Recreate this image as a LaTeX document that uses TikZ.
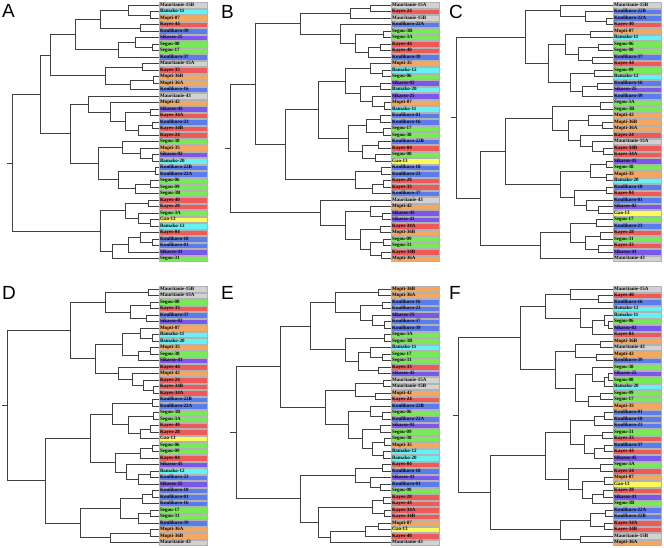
\documentclass[tikz,border=0pt]{standalone}
\usepackage{fontspec}
\setmainfont{Liberation Serif}
\newfontfamily\panelfont{Liberation Sans}
\usetikzlibrary{calc}

\definecolor{mau}{HTML}{D2D2D2}
\definecolor{bam}{HTML}{66F2F2}
\definecolor{mop}{HTML}{F2A860}
\definecolor{kay}{HTML}{EC5A5A}
\definecolor{kou}{HTML}{5C7CEC}
\definecolor{sik}{HTML}{7A58E8}
\definecolor{seg}{HTML}{78EA58}
\definecolor{gao}{HTML}{FAFA5A}

\tikzset{
  leaf/.style={draw=gray!60, line width=0.3pt, fill=#1, anchor=west, align=left,
    font=\fontsize{5}{5}\selectfont\bfseries, text width=46pt, inner xsep=1pt,
    inner ysep=0.5pt, text height=3.6pt, text depth=1pt},
  panel/.style={anchor=north west, inner sep=0pt, font=\panelfont\fontsize{19}{19}\selectfont},
  branch/.style={line width=0.4pt, black!75}
}

% join two clades: name, x, child, child
\newcommand\jn[4]{%
  \path let \p1=(#3), \p2=(#4) in coordinate (#1) at (#2, {0.5*(\y1+\y2)});
  \draw[branch] (#1) |- (#3) (#1) |- (#4);}

\begin{document}
\begin{tikzpicture}[x=1pt, y=-1pt]
  \useasboundingbox (0,0) rectangle (664,548);
  \def\yT{5}     % first row, top panels
  \def\yB{289}   % first row, bottom panels
  \def\dy{6.5}   % row pitch
  % panel letters
  \node[panel] (pA) at (2,4) {A};
  \node[panel] (pB) at (221,5) {B};
  \node[panel] (pC) at (449,5) {C};
  \node[panel] (pD) at (2,286) {D};
  \node[panel] (pE) at (221,286) {E};
  \node[panel] (pF) at (449,286) {F};
  % panel A leaves
  \foreach \t/\c [count=\i] in {Mauritanie-15B/mau, Bamako-11/bam, Mopti-07/mop, Kayes-44/kay,
      Koulikoro-39/kou, Sikasso-25/sik, Segou-08/seg, Segou-17/seg, Koulikoro-37/kou,
      Mauritanie-15A/mau, Kayes-33/kay, Mopti-36B/mop, Mopti-36A/mop, Koulikoro-16/kou,
      Mauritanie-43/mau, Mopti-42/mop, Sikasso-45/sik, Kayes-34A/kay, Koulikoro-23/kou,
      Kayes-34B/kay, Kayes-24/kay, Segou-38/seg, Mopti-35/mop, Sikasso-02/sik, Bamako-20/bam,
      Koulikoro-22B/kou, Koulikoro-22A/kou, Segou-06/seg, Segou-09/seg, Segou-3B/seg,
      Kayes-40/kay, Kayes-28/kay, Segou-3A/seg, Gao-13/gao, Bamako-12/bam, Kayes-04/kay,
      Koulikoro-18/kou, Koulikoro-01/kou, Sikasso-41/sik, Segou-31/seg}
    \node[leaf=\c] (A\i) at (159, {\yT+(\i-1)*\dy}) {\t};
  % panel B leaves
  \foreach \t/\c [count=\i] in {Mauritanie-15A/mau, Kayes-24/kay, Mauritanie-15B/mau,
      Koulikoro-22A/kou, Segou-3B/seg, Segou-3A/seg, Kayes-44/kay, Kayes-40/kay,
      Koulikoro-39/kou, Mopti-35/mop, Bamako-12/bam, Segou-06/seg, Sikasso-02/sik,
      Bamako-20/bam, Sikasso-25/sik, Mopti-07/mop, Bamako-11/bam, Koulikoro-01/kou,
      Koulikoro-16/kou, Segou-17/seg, Segou-38/seg, Koulikoro-22B/kou, Kayes-04/kay,
      Segou-08/seg, Gao-13/gao, Koulikoro-18/kou, Koulikoro-23/kou, Kayes-28/kay,
      Kayes-33/kay, Koulikoro-37/kou, Mauritanie-43/mau, Mopti-42/mop, Sikasso-45/sik,
      Sikasso-41/sik, Kayes-34A/kay, Mopti-36B/mop, Segou-09/seg, Segou-31/seg,
      Kayes-34B/kay, Mopti-36A/mop}
    \node[leaf=\c] (B\i) at (391, {\yT+(\i-1)*\dy}) {\t};
  % panel C leaves
  \foreach \t/\c [count=\i] in {Mauritanie-15B/mau, Koulikoro-22B/kou, Koulikoro-22A/kou,
      Kayes-40/kay, Mopti-07/mop, Bamako-11/bam, Segou-06/seg, Segou-08/seg,
      Koulikoro-37/kou, Kayes-44/kay, Segou-09/seg, Bamako-12/bam, Koulikoro-16/kou,
      Sikasso-25/sik, Koulikoro-39/kou, Segou-3A/seg, Segou-3B/seg, Mopti-42/mop,
      Mopti-36B/mop, Mopti-36A/mop, Kayes-24/kay, Mauritanie-15A/mau, Kayes-34B/kay,
      Kayes-34A/kay, Sikasso-45/sik, Segou-38/seg, Mopti-35/mop, Bamako-20/bam,
      Koulikoro-18/kou, Kayes-04/kay, Koulikoro-01/kou, Sikasso-02/sik, Gao-13/gao,
      Segou-17/seg, Koulikoro-23/kou, Kayes-28/kay, Segou-31/seg, Kayes-33/kay,
      Sikasso-41/sik, Mauritanie-43/mau}
    \node[leaf=\c] (C\i) at (613, {\yT+(\i-1)*\dy}) {\t};
  % panel D leaves
  \foreach \t/\c [count=\i] in {Mauritanie-15B/mau, Mauritanie-15A/mau, Segou-08/seg,
      Kayes-33/kay, Koulikoro-37/kou, Sikasso-02/sik, Mopti-07/mop, Bamako-11/bam,
      Bamako-20/bam, Mopti-35/mop, Segou-38/seg, Sikasso-41/sik, Kayes-44/kay, Mopti-42/mop,
      Kayes-24/kay, Kayes-34B/kay, Kayes-34A/kay, Koulikoro-22B/kou, Koulikoro-22A/kou,
      Segou-3B/seg, Segou-3A/seg, Kayes-40/kay, Kayes-28/kay, Gao-13/gao, Segou-06/seg,
      Segou-09/seg, Kayes-04/kay, Sikasso-45/sik, Bamako-12/bam, Koulikoro-23/kou,
      Sikasso-25/sik, Koulikoro-18/kou, Koulikoro-01/kou, Koulikoro-16/kou, Segou-17/seg,
      Segou-31/seg, Koulikoro-39/kou, Mopti-36A/mop, Mopti-36B/mop, Mauritanie-43/mau}
    \node[leaf=\c] (D\i) at (159, {\yB+(\i-1)*\dy}) {\t};
  % panel E leaves
  \foreach \t/\c [count=\i] in {Mopti-36B/mop, Mopti-36A/mop, Koulikoro-16/kou,
      Koulikoro-23/kou, Sikasso-25/sik, Koulikoro-37/kou, Koulikoro-39/kou, Segou-3A/seg,
      Segou-3B/seg, Bamako-11/bam, Segou-17/seg, Segou-31/seg, Kayes-33/kay, Sikasso-45/sik,
      Mauritanie-15A/mau, Mauritanie-15B/mau, Mopti-42/mop, Kayes-24/kay, Koulikoro-22B/kou,
      Segou-06/seg, Koulikoro-22A/kou, Sikasso-02/sik, Segou-09/seg, Segou-38/seg,
      Mopti-35/mop, Bamako-12/bam, Bamako-20/bam, Kayes-04/kay, Koulikoro-18/kou,
      Sikasso-41/sik, Koulikoro-01/kou, Segou-08/seg, Kayes-28/kay, Kayes-44/kay,
      Kayes-34A/kay, Kayes-34B/kay, Mopti-07/mop, Gao-13/gao, Kayes-40/kay, Mauritanie-43/mau}
    \node[leaf=\c] (E\i) at (391, {\yB+(\i-1)*\dy}) {\t};
  % panel F leaves
  \foreach \t/\c [count=\i] in {Mauritanie-15A/mau, Kayes-40/kay, Koulikoro-16/kou,
      Bamako-12/bam, Bamako-11/bam, Segou-06/seg, Sikasso-02/sik, Kayes-04/kay,
      Mopti-36B/mop, Mauritanie-43/mau, Mopti-42/mop, Koulikoro-39/kou, Segou-38/seg,
      Sikasso-25/sik, Segou-08/seg, Bamako-20/bam, Segou-09/seg, Segou-17/seg, Mopti-35/mop,
      Koulikoro-01/kou, Koulikoro-18/kou, Koulikoro-23/kou, Segou-31/seg, Kayes-33/kay,
      Koulikoro-37/kou, Kayes-44/kay, Sikasso-45/sik, Segou-3A/seg, Kayes-24/kay,
      Mopti-07/mop, Gao-13/gao, Kayes-28/kay, Sikasso-41/sik, Segou-3B/seg,
      Koulikoro-22A/kou, Koulikoro-22B/kou, Kayes-34A/kay, Kayes-34B/kay,
      Mauritanie-15B/mau, Mopti-36A/mop}
    \node[leaf=\c] (F\i) at (613, {\yB+(\i-1)*\dy}) {\t};

  % tree A
  \jn{Aa}{150}{A2}{A3} \jn{Ab}{128}{A1}{Aa} \jn{Ac}{140}{A4}{A5} \jn{Ad}{100}{Ab}{Ac}
  \jn{Ae}{152}{A7}{A8} \jn{Af}{135}{A6}{Ae} \jn{Ag}{118}{Af}{A9} \jn{Ah}{75}{Ad}{Ag}
  \jn{Ai}{142}{A10}{A11} \jn{Aj}{153}{A12}{A13} \jn{Ak}{130}{Aj}{A14} \jn{Al}{105}{Ai}{Ak}
  \jn{Am}{50}{Ah}{Al}
  \jn{An}{150}{A17}{A18} \jn{Ao}{152}{A19}{A20} \jn{Ap}{138}{Ao}{A21} \jn{Aq}{125}{An}{Ap}
  \jn{Ar}{110}{A16}{Aq} \jn{As}{88}{A15}{Ar}
  \jn{At}{152}{A24}{A25} \jn{Au}{140}{A23}{At} \jn{Av}{122}{A22}{Au} \jn{Aw}{155}{A26}{A27}
  \jn{Ax}{150}{A28}{A29} \jn{Ay}{135}{Ax}{A30} \jn{Az}{118}{Aw}{Ay} \jn{AA}{98}{Av}{Az}
  \jn{AB}{70}{As}{AA} \jn{AC}{40}{Am}{AB}
  \jn{AD}{148}{A31}{A32} \jn{AE}{150}{A34}{A35} \jn{AF}{138}{A33}{AE} \jn{AG}{125}{AD}{AF}
  \jn{AH}{152}{A37}{A38} \jn{AI}{140}{A36}{AH} \jn{AJ}{128}{AI}{A39} \jn{AK}{112}{AJ}{A40}
  \jn{AL}{100}{AG}{AK} \jn{AM}{12}{AC}{AL}
  \draw[branch] (AM) -- ++(-5,0);

  % tree B
  \jn{Ba}{370}{B1}{B2} \jn{Bb}{350}{Ba}{B3}
  \jn{Bc}{383}{B5}{B6} \jn{Bd}{380}{B7}{B8} \jn{Be}{368}{Bd}{B9} \jn{Bf}{355}{Bc}{Be}
  \jn{Bg}{340}{B4}{Bf} \jn{Bh}{300}{Bb}{Bg}
  \jn{Bi}{382}{B11}{B12} \jn{Bj}{370}{B10}{Bi} \jn{Bk}{380}{B13}{B14} \jn{Bl}{384}{B16}{B17}
  \jn{Bm}{372}{B15}{Bl} \jn{Bn}{360}{Bk}{Bm} \jn{Bo}{345}{Bj}{Bn}
  \jn{Bp}{380}{B18}{B19} \jn{Bq}{383}{B20}{B21} \jn{Br}{366}{Bp}{Bq} \jn{Bs}{378}{B22}{B23}
  \jn{Bt}{375}{B24}{B25} \jn{Bu}{362}{Bs}{Bt} \jn{Bv}{348}{Br}{Bu} \jn{Bw}{318}{Bo}{Bv}
  \jn{Bx}{381}{B26}{B27} \jn{By}{383}{B28}{B29} \jn{Bz}{372}{By}{B30} \jn{BA}{355}{Bx}{Bz}
  \jn{BB}{285}{Bw}{BA} \jn{BC}{255}{Bh}{BB}
  \jn{BD}{382}{B33}{B34} \jn{BE}{370}{B32}{BD} \jn{BF}{380}{B35}{B36} \jn{BG}{383}{B37}{B38}
  \jn{BH}{381}{B39}{B40} \jn{BI}{370}{BG}{BH} \jn{BJ}{360}{BF}{BI} \jn{BK}{345}{BE}{BJ}
  \jn{BL}{320}{B31}{BK} \jn{BM}{230}{BC}{BL}
  \draw[branch] (BM) -- ++(-5,0);

  % tree C
  \jn{Ca}{606}{C3}{C4} \jn{Cb}{585}{C2}{Ca} \jn{Cc}{560}{C1}{Cb}
  \jn{Cd}{590}{C5}{C6} \jn{Ce}{598}{C7}{C8} \jn{Cf}{592}{C9}{C10} \jn{Cg}{578}{Ce}{Cf}
  \jn{Ch}{565}{Cd}{Cg} \jn{Ci}{594}{C11}{C12} \jn{Cj}{597}{C13}{C14} \jn{Ck}{582}{Cj}{C15}
  \jn{Cl}{570}{Ci}{Ck} \jn{Cm}{548}{Ch}{Cl} \jn{Cn}{525}{Cc}{Cm}
  \jn{Co}{600}{C16}{C17} \jn{Cp}{602}{C19}{C20} \jn{Cq}{588}{C18}{Cp} \jn{Cr}{603}{C23}{C24}
  \jn{Cs}{592}{C22}{Cr} \jn{Ct}{580}{C21}{Cs} \jn{Cu}{568}{Cq}{Ct} \jn{Cv}{552}{Co}{Cu}
  \jn{Cw}{606}{C25}{C26} \jn{Cx}{606}{C27}{C28} \jn{Cy}{590}{Cw}{Cx} \jn{Cz}{606}{C29}{C30}
  \jn{CA}{598}{C32}{C33} \jn{CB}{586}{C31}{CA} \jn{CC}{574}{Cz}{CB} \jn{CD}{560}{Cy}{CC}
  \jn{CE}{505}{Cv}{CD}
  \jn{CF}{596}{C34}{C35} \jn{CG}{600}{C36}{C37} \jn{CH}{598}{C38}{C39} \jn{CI}{585}{CG}{CH}
  \jn{CJ}{570}{CF}{CI} \jn{CK}{540}{CJ}{C40} \jn{CL}{480}{CE}{CK} \jn{CM}{456}{Cn}{CL}
  \draw[branch] (CM) -- ++(-5,0);

  % tree D
  \jn{Da}{148}{D1}{D2} \jn{Db}{150}{D3}{D4} \jn{Dc}{146}{D5}{D6} \jn{Dd}{130}{Db}{Dc}
  \jn{De}{105}{Da}{Dd}
  \jn{Df}{152}{D8}{D9} \jn{Dg}{140}{D7}{Df} \jn{Dh}{150}{D10}{D11} \jn{Di}{138}{Dh}{D12}
  \jn{Dj}{122}{Dg}{Di} \jn{Dk}{153}{D16}{D17} \jn{Dl}{143}{D15}{Dk} \jn{Dm}{132}{D14}{Dl}
  \jn{Dn}{118}{D13}{Dm} \jn{Do}{95}{Dj}{Dn} \jn{Dp}{70}{De}{Do}
  \jn{Dq}{152}{D18}{D19} \jn{Dr}{153}{D20}{D21} \jn{Ds}{150}{D22}{D23} \jn{Dt}{140}{Ds}{D24}
  \jn{Du}{128}{Dr}{Dt} \jn{Dv}{112}{Dq}{Du}
  \jn{Dw}{152}{D25}{D26} \jn{Dx}{140}{Dw}{D27} \jn{Dy}{150}{D29}{D30} \jn{Dz}{138}{Dy}{D31}
  \jn{DA}{126}{D28}{Dz} \jn{DB}{115}{Dx}{DA} \jn{DC}{90}{Dv}{DB}
  \jn{DD}{152}{D32}{D33} \jn{DE}{142}{DD}{D34} \jn{DF}{150}{D35}{D36} \jn{DG}{138}{DF}{D37}
  \jn{DH}{120}{DE}{DG} \jn{DI}{150}{D38}{D39} \jn{DJ}{110}{DI}{D40} \jn{DK}{80}{DH}{DJ}
  \jn{DL}{45}{DC}{DK} \jn{DM}{7}{Dp}{DL}
  \draw[branch] (DM) -- ++(-5,0);

  % tree E
  \jn{Ea}{378}{E1}{E2}
  \jn{Eb}{382}{E3}{E4} \jn{Ec}{384}{E6}{E7} \jn{Ed}{372}{E5}{Ec} \jn{Ee}{360}{Eb}{Ed}
  \jn{Ef}{335}{Ea}{Ee}
  \jn{Eg}{384}{E8}{E9} \jn{Eh}{382}{E11}{E12} \jn{Ei}{370}{E10}{Eh} \jn{Ej}{378}{E13}{E14}
  \jn{Ek}{358}{Ei}{Ej} \jn{El}{345}{Eg}{Ek} \jn{Em}{310}{Ef}{El}
  \jn{En}{383}{E15}{E16} \jn{Eo}{375}{E17}{E18} \jn{Ep}{355}{En}{Eo}
  \jn{Eq}{382}{E20}{E21} \jn{Er}{370}{E19}{Eq} \jn{Es}{380}{E22}{E23} \jn{Et}{384}{E24}{E25}
  \jn{Eu}{383}{E26}{E27} \jn{Ev}{372}{Et}{Eu} \jn{Ew}{362}{Es}{Ev} \jn{Ex}{348}{Er}{Ew}
  \jn{Ey}{325}{Ep}{Ex} \jn{Ez}{280}{Em}{Ey}
  \jn{EA}{382}{E28}{E29} \jn{EB}{380}{E31}{E32} \jn{EC}{370}{E30}{EB} \jn{ED}{355}{EA}{EC}
  \jn{EE}{383}{E33}{E34} \jn{EF}{384}{E35}{E36} \jn{EG}{372}{EE}{EF} \jn{EH}{378}{E37}{E38}
  \jn{EI}{365}{EH}{E39} \jn{EJ}{330}{EI}{E40} \jn{EK}{318}{EG}{EJ} \jn{EL}{300}{ED}{EK}
  \jn{EM}{236}{Ez}{EL}
  \draw[branch] (EM) -- ++(-6,0);

  % tree F
  \jn{Fa}{598}{F2}{F3} \jn{Fb}{570}{F1}{Fa}
  \jn{Fc}{608}{F6}{F7} \jn{Fd}{604}{F5}{Fc} \jn{Fe}{592}{Fd}{F8} \jn{Ff}{580}{F4}{Fe}
  \jn{Fg}{545}{Fb}{Ff}
  \jn{Fh}{600}{F9}{F10} \jn{Fi}{596}{F11}{F12} \jn{Fj}{575}{Fh}{Fi}
  \jn{Fk}{608}{F14}{F15} \jn{Fl}{604}{Fk}{F16} \jn{Fm}{592}{F13}{Fl} \jn{Fn}{600}{F17}{F18}
  \jn{Fo}{588}{Fn}{F19} \jn{Fp}{575}{Fm}{Fo} \jn{Fq}{555}{Fj}{Fp} \jn{Fr}{520}{Fg}{Fq}
  \jn{Fs}{604}{F20}{F21} \jn{Ft}{594}{Fs}{F22} \jn{Fu}{602}{F23}{F24} \jn{Fv}{604}{F25}{F26}
  \jn{Fw}{594}{Fv}{F27} \jn{Fx}{584}{Fu}{Fw} \jn{Fy}{570}{Ft}{Fx}
  \jn{Fz}{600}{F28}{F29} \jn{FA}{604}{F30}{F31} \jn{FB}{603}{F32}{F33} \jn{FC}{592}{FB}{F34}
  \jn{FD}{582}{FA}{FC} \jn{FE}{568}{Fz}{FD} \jn{FF}{545}{Fy}{FE}
  \jn{FG}{605}{F35}{F36} \jn{FH}{604}{F37}{F38} \jn{FI}{590}{FG}{FH} \jn{FJ}{580}{F39}{F40}
  \jn{FK}{560}{FI}{FJ} \jn{FL}{490}{FF}{FK} \jn{FM}{458}{Fr}{FL}
  \draw[branch] (FM) -- ++(-5,0);
\end{tikzpicture}
\end{document}
